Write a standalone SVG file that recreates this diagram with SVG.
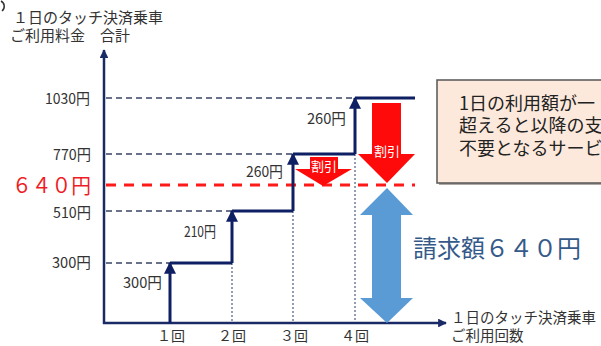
<svg xmlns="http://www.w3.org/2000/svg" width="601" height="346" viewBox="0 0 601 346">
<style>
.jp{font-family:"Noto Sans CJK JP","Noto Sans",sans-serif;}
.num{font-family:"Liberation Sans Narrow","Noto Sans CJK JP",sans-serif;font-size:15px;fill:#333;}
.lbl{font-family:"Noto Sans CJK JP",sans-serif;font-size:14px;fill:#333;}
.grid{stroke:#3a4466;stroke-width:1.5;stroke-dasharray:6 4;fill:none;}
.dot{stroke:#2a3a6a;stroke-width:1;stroke-dasharray:2 2;fill:none;}
.step{stroke:#0f1f63;stroke-width:3;fill:none;}
.axis{stroke:#1a2a66;stroke-width:2.5;fill:none;}
.red{fill:#ff0a0a;}
.wt{font-family:"Noto Sans CJK JP",sans-serif;font-size:13px;fill:#fff;text-anchor:middle;}
</style>
<defs>
<marker id="ah" viewBox="0 0 10 10" refX="9" refY="5" markerWidth="4" markerHeight="4" markerUnits="strokeWidth" orient="auto">
<path d="M0,0 L10,5 L0,10 z" fill="#0f1f63"/>
</marker>
<marker id="ax" viewBox="0 0 10 10" refX="9" refY="5" markerWidth="3.5" markerHeight="3.5" markerUnits="strokeWidth" orient="auto">
<path d="M0,0 L10,5 L0,10 z" fill="#1a2a66"/>
</marker>
</defs>
<rect width="601" height="346" fill="#fff"/>
<path d="M1,1 A6,6 0 0 1 2,11" stroke="#333" stroke-width="1.5" fill="none"/>

<g id="y-title" class="jp">
<text x="13" y="23" font-size="15" fill="#333">１日のタッチ決済乗車</text>
<text x="10" y="41" font-size="15" fill="#333">ご利用料金　合計</text>
</g>
<g id="x-title" class="jp">
<text x="451" y="323" font-size="14.5" fill="#333">１日のタッチ決済乗車</text>
<text x="451" y="341" font-size="14.5" fill="#333">ご利用回数</text>
</g>

<g id="grid">
<line class="grid" x1="106" y1="98" x2="355" y2="98"/>
<line class="grid" x1="106" y1="154" x2="293" y2="154"/>
<line class="grid" x1="106" y1="211" x2="232" y2="211"/>
<line class="grid" x1="106" y1="263" x2="170" y2="263"/>
<line class="dot" x1="232" y1="263" x2="232" y2="322"/>
<line class="dot" x1="293" y1="211" x2="293" y2="322"/>
<line class="dot" x1="355" y1="154" x2="355" y2="322"/>
<line x1="106" y1="185" x2="415" y2="185" stroke="#ff1a1a" stroke-width="3" stroke-dasharray="10 8"/>
</g>

<g id="y-labels">
<text class="num" x="90" y="104" text-anchor="end" textLength="45" lengthAdjust="spacingAndGlyphs">1030円</text>
<text class="num" x="91" y="160" text-anchor="end" textLength="38" lengthAdjust="spacingAndGlyphs">770円</text>
<text class="num" x="91" y="218" text-anchor="end" textLength="38" lengthAdjust="spacingAndGlyphs">510円</text>
<text class="num" x="91" y="268" text-anchor="end" textLength="39" lengthAdjust="spacingAndGlyphs">300円</text>
<text class="jp" x="12" y="193" font-size="21" fill="#ee1c25" textLength="79" lengthAdjust="spacingAndGlyphs">６４０円</text>
</g>

<g id="connectors">
<line class="axis" x1="104" y1="324" x2="104" y2="50" marker-end="url(#ax)"/>
<line class="axis" x1="103" y1="323" x2="446" y2="323" marker-end="url(#ax)"/>
<line class="step" x1="170" y1="323" x2="170" y2="263" marker-end="url(#ah)"/>
<line class="step" x1="170" y1="263" x2="232" y2="263"/>
<line class="step" x1="232" y1="263" x2="232" y2="211" marker-end="url(#ah)"/>
<line class="step" x1="232" y1="211" x2="293" y2="211"/>
<line class="step" x1="293" y1="211" x2="293" y2="154" marker-end="url(#ah)"/>
<line class="step" x1="293" y1="154" x2="355" y2="154"/>
<line class="step" x1="355" y1="154" x2="355" y2="98" marker-end="url(#ah)"/>
<line class="step" x1="355" y1="98" x2="415" y2="98"/>
</g>

<g id="step-labels">
<text class="num" x="123" y="288" textLength="39" lengthAdjust="spacingAndGlyphs">300円</text>
<text class="num" x="184" y="237" textLength="32" lengthAdjust="spacingAndGlyphs">210円</text>
<text class="num" x="246" y="177" textLength="37" lengthAdjust="spacingAndGlyphs">260円</text>
<text class="num" x="307" y="124" textLength="39" lengthAdjust="spacingAndGlyphs">260円</text>
</g>

<g id="x-labels" class="lbl" text-anchor="middle">
<text x="171" y="341">１回</text>
<text x="232" y="341">２回</text>
<text x="294" y="341">３回</text>
<text x="355" y="341">４回</text>
</g>

<g id="discount-small">
<polygon class="red" points="310,157 338,157 338,169 352,169 323,186 295,169 310,169"/>
<text class="wt" x="324" y="171">割引</text>
</g>
<g id="discount-big">
<polygon class="red" points="372,103 401,103 401,154 415,154 387,183 358,154 372,154"/>
<text class="wt" x="387" y="156">割引</text>
</g>

<g id="charge">
<polygon fill="#5b9bd5" points="387,188 413,215 401,215 401,298 413,298 387,323 360,298 372,298 372,215 360,215"/>
<text class="jp" x="413" y="257" font-size="24" fill="#355a8a">請求額６４０円</text>
</g>

<g id="note">
<rect x="439" y="82" width="170" height="103" fill="#b0a8a4"/>
<rect x="437" y="80" width="170" height="103" fill="#fde9dc" stroke="#555" stroke-width="1.5"/>
<text class="jp" x="459" y="110" font-size="18" fill="#222">1日の利用額が一</text>
<text class="jp" x="459" y="132" font-size="18" fill="#222">超えると以降の支</text>
<text class="jp" x="459" y="155" font-size="18" fill="#222">不要となるサービ</text>
</g>
</svg>
